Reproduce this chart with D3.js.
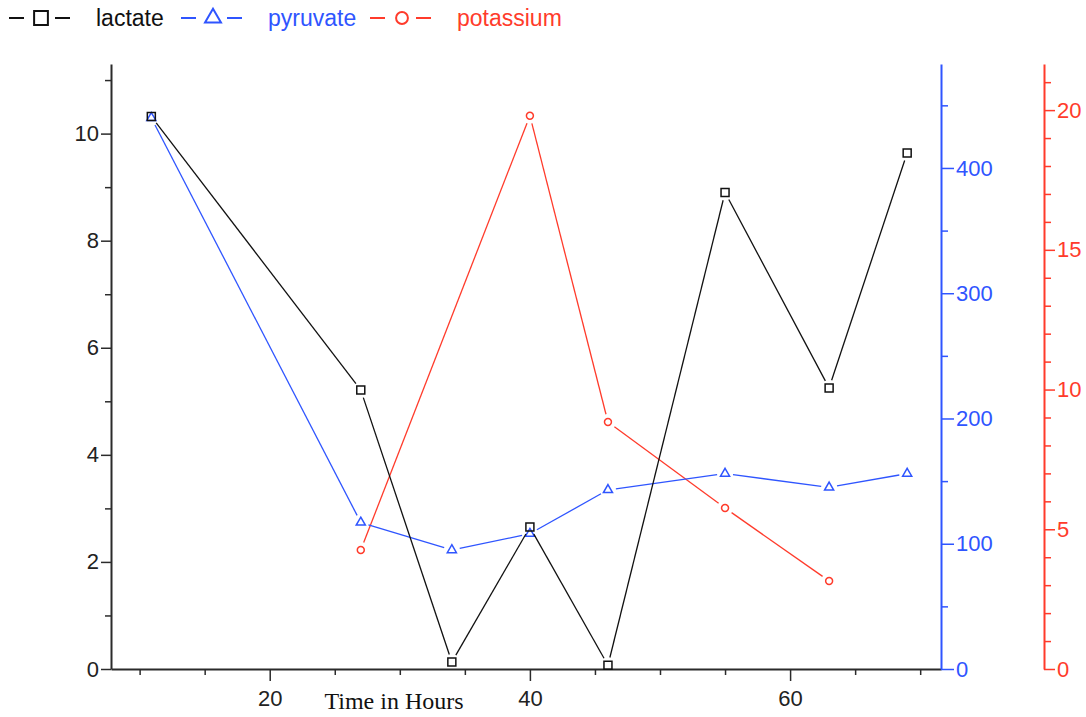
<!DOCTYPE html>
<html>
<head>
<meta charset="utf-8">
<script src="https://cdn.jsdelivr.net/npm/d3@7"></script>
<style>
  body { margin: 0; background: #fff; }
  svg { display: block; font-family: Arial, "Liberation Sans", sans-serif; }
</style>
</head>
<body>
<div class="chart"></div>
<script>
// data
const lactateHours = [10.9, 27, 34, 40, 46, 55, 63, 69]
const lactate = [10.32, 5.21, 0.13, 2.65, 0.07, 8.9, 5.25, 9.64]

const pyruvateHours = [10.9, 27, 34, 40, 46, 55, 63, 69]
const pyruvate = [440, 117, 95, 108, 143, 156, 145, 156]

const potassiumHours = [27, 40, 46, 55, 63]
const potassium = [4.26, 19.8, 8.84, 5.76, 3.15]

const xTicks = d3.range(10, 71, 5)
const leftTicks = d3.range(0, 12, 1)
const blueTicks = d3.range(0, 451, 50)
const redTicks = d3.range(0, 22, 1)

const black = "#111"
const axisGray = "#2b2b2b"
const blue = "#2f55ff"
const red = "#ff3b2b"

const svgWidth = 1086, svgHeight = 717
const plot = { left: 111, right: 941, top: 64, bottom: 669 }
const redAxisX = 1044

const svg = d3.select(".chart").append("svg")
    .attr("width", svgWidth)
    .attr("height", svgHeight)

// SCALES
const x = d3.scaleLinear().domain([7.8, 71.6]).range([plot.left, plot.right])
const yL = d3.scaleLinear().domain([0, 11.3]).range([plot.bottom, plot.top])
const yB = d3.scaleLinear().domain([0, 483]).range([plot.bottom, plot.top])
const yR = d3.scaleLinear().domain([0, 21.65]).range([plot.bottom, plot.top])

function styleAxis(g, color, fontSize) {
    g.select(".domain").attr("stroke", color).attr("stroke-width", 2)
    g.selectAll(".tick line").attr("stroke", color).attr("stroke-width", 1.5)
    g.selectAll(".tick text").attr("fill", color).style("font-size", fontSize + "px")
}

// X AXIS
const gx = svg.append("g")
    .attr("transform", `translate(0, ${plot.bottom})`)
    .call(d3.axisBottom(x).tickValues(xTicks).tickSizeInner(12).tickSizeOuter(0).tickFormat(d3.format("d")))
styleAxis(gx, axisGray, 22)
gx.selectAll(".tick").filter(d => d % 20 !== 0).each(function () {
    d3.select(this).select("line").attr("y2", 6)
    d3.select(this).select("text").remove()
})
gx.selectAll(".tick text").attr("y", 37).attr("dy", 0).attr("fill", "#222")

// LEFT AXIS
const gl = svg.append("g")
    .attr("transform", `translate(${plot.left}, 0)`)
    .call(d3.axisLeft(yL).tickValues(leftTicks).tickSizeInner(10).tickSizeOuter(0).tickPadding(2))
styleAxis(gl, axisGray, 22)
gl.selectAll(".tick").filter(d => d % 2 !== 0).each(function () {
    d3.select(this).select("line").attr("x2", -6)
    d3.select(this).select("text").remove()
})
gl.selectAll(".tick text").attr("fill", "#222")

// BLUE AXIS (pyruvate)
const gb = svg.append("g")
    .attr("transform", `translate(${plot.right}, 0)`)
    .call(d3.axisRight(yB).tickValues(blueTicks).tickSizeInner(13).tickSizeOuter(0).tickPadding(2))
styleAxis(gb, blue, 22)
gb.selectAll(".tick").filter(d => d % 100 !== 0).each(function () {
    d3.select(this).select("line").attr("x2", 7)
    d3.select(this).select("text").remove()
})

// RED AXIS (potassium)
const gr = svg.append("g")
    .attr("transform", `translate(${redAxisX}, 0)`)
    .call(d3.axisRight(yR).tickValues(redTicks).tickSizeInner(11).tickSizeOuter(0).tickPadding(2))
styleAxis(gr, red, 22)
gr.selectAll(".tick").filter(d => d % 5 !== 0).each(function () {
    d3.select(this).select("line").attr("x2", 7)
    d3.select(this).select("text").remove()
})

// X TITLE
svg.append("text")
    .attr("x", 394)
    .attr("y", 709)
    .attr("text-anchor", "middle")
    .style("font-family", "'Liberation Serif', 'Times New Roman', serif")
    .style("font-size", "24px")
    .attr("fill", "#111")
    .text("Time in Hours")

// lines stop short of the markers
function drawSeries(hours, values, yScale, color, symbol, size) {
    const pts = hours.map((h, i) => [x(h), yScale(values[i])])
    const gap = 8
    const g = svg.append("g")
    for (let i = 0; i < pts.length - 1; i++) {
        const [x1, y1] = pts[i], [x2, y2] = pts[i + 1]
        const len = Math.hypot(x2 - x1, y2 - y1)
        if (len <= gap * 2) continue
        const ux = (x2 - x1) / len, uy = (y2 - y1) / len
        g.append("line")
            .attr("x1", x1 + ux * gap).attr("y1", y1 + uy * gap)
            .attr("x2", x2 - ux * gap).attr("y2", y2 - uy * gap)
            .attr("stroke", color)
            .attr("stroke-width", 1.3)
    }
    g.selectAll("path.marker")
        .data(pts)
        .join("path")
        .attr("class", "marker")
        .attr("transform", d => `translate(${d[0]}, ${d[1]})`)
        .attr("d", d3.symbol().type(symbol).size(size))
        .attr("fill", "none")
        .attr("stroke", color)
        .attr("stroke-width", 1.5)
}

drawSeries(potassiumHours, potassium, yR, red, d3.symbolCircle, 38)
drawSeries(pyruvateHours, pyruvate, yB, blue, d3.symbolTriangle, 36)
drawSeries(lactateHours, lactate, yL, black, d3.symbolSquare, 64)

// LEGEND
const legendItems = [
    { name: "lactate", color: black, symbol: d3.symbolSquare, size: 190, x: 9 },
    { name: "pyruvate", color: blue, symbol: d3.symbolTriangle, size: 110, x: 181 },
    { name: "potassium", color: red, symbol: d3.symbolCircle, size: 110, x: 370 }
]
const legend = svg.append("g")
legendItems.forEach(item => {
    const g = legend.append("g").attr("transform", `translate(${item.x}, 18)`)
    g.append("line").attr("x1", 0).attr("x2", 15).attr("stroke", item.color).attr("stroke-width", 2)
    g.append("path")
        .attr("transform", "translate(32, 0)")
        .attr("d", d3.symbol().type(item.symbol).size(item.size))
        .attr("fill", "none")
        .attr("stroke", item.color)
        .attr("stroke-width", 2)
    g.append("line").attr("x1", 46).attr("x2", 61).attr("stroke", item.color).attr("stroke-width", 2)
    g.append("text")
        .attr("x", 87)
        .attr("y", 8)
        .attr("fill", item.color === black ? "#111" : item.color)
        .style("font-size", "23px")
        .text(item.name)
})
</script>
</body>
</html>
